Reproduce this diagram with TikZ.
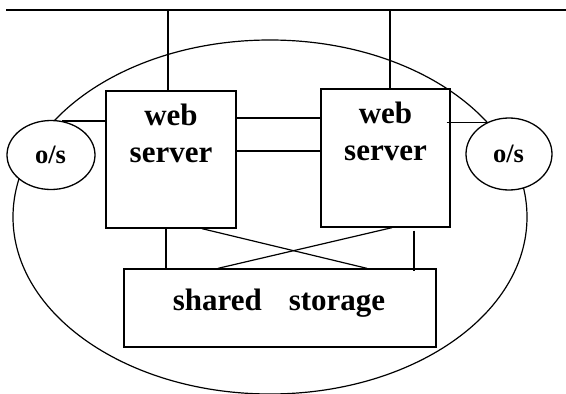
\documentclass[tikz,border=0pt]{standalone}
\usepackage{fontspec}
\setmainfont{Liberation Serif}
\usetikzlibrary{shapes.geometric,calc}
\tikzset{
  ln/.style={line width=1.2pt},
  bx/.style={draw,line width=1.3pt,fill=white,rectangle,inner sep=0pt},
  osell/.style={draw,line width=1.3pt,fill=white,ellipse,inner sep=0pt},
  big/.style={font=\bfseries\fontsize{31}{37}\selectfont,inner sep=0pt,anchor=base},
  small/.style={font=\bfseries\fontsize{26.5}{30}\selectfont,inner sep=0pt,anchor=base},
}
\begin{document}
\begin{tikzpicture}[x=1pt,y=-1pt]
\useasboundingbox (0,0) rectangle (566,394);
% cluster ellipse
\node[draw,line width=1.2pt,ellipse,inner sep=0pt,minimum width=514pt,minimum height=354pt] (cluster) at (270,217) {};
% o/s ellipses
\node[osell,minimum width=88pt,minimum height=69pt] (os1) at (51,155) {};
\node[osell,minimum width=86pt,minimum height=72pt] (os2) at (509,154) {};
% web servers
\node[bx,minimum width=130pt,minimum height=137pt] (ws1) at (171,159.5) {};
\node[bx,minimum width=129pt,minimum height=138pt] (ws2) at (385.5,158) {};
% shared storage
\node[bx,minimum width=312pt,minimum height=78pt] (st) at (280,308) {};
% texts
\node[big] (w1a) at (171,125) {web};
\node[big] (w1b) at (171,162) {server};
\node[big] (w2a) at (385.5,123) {web};
\node[big] (w2b) at (385.5,160) {server};
\node[small] (o1) at (50.5,163) {o/s};
\node[small] (o2) at (508.5,162) {o/s};
\node[big] (sst) at (279,310) {shared\hspace{27pt}storage};
% network bus
\coordinate (busL) at (6,10);
\coordinate (busR) at (566,10);
\draw[line width=2pt] (busL) -- (busR);
\coordinate (t1) at (168,11);
\coordinate (t2) at (390,11);
\draw[ln] (t1) -- (t1 |- ws1.north);
\draw[ln] (t2) -- (t2 |- ws2.north);
% o/s links
\draw[ln] (os1.72) -- (os1.72 -| ws1.west);
\draw[ln] ([xshift=-4pt]ws2.east |- os2.124) -- (os2.124);
% heartbeat links
\draw[ln] ([yshift=41.5pt]ws1.east) -- ([yshift=41.5pt]ws1.east -| ws2.west);
\draw[ln] ([yshift=8.5pt]ws1.east) -- ([yshift=8.5pt]ws1.east -| ws2.west);
% storage links
\draw[ln] ([xshift=-5pt]ws1.south) -- ([xshift=-5pt]ws1.south |- st.north);
\draw[ln] ([xshift=31pt]ws1.south) -- ([xshift=87pt]st.north);
\draw[ln] ([xshift=6.5pt]ws2.south) -- ([xshift=-62pt]st.north);
\draw[ln] ([xshift=28.5pt,yshift=-3pt]ws2.south) -- ([xshift=28.5pt,yshift=-3pt]ws2.south |- st.north);
\end{tikzpicture}
\end{document}
